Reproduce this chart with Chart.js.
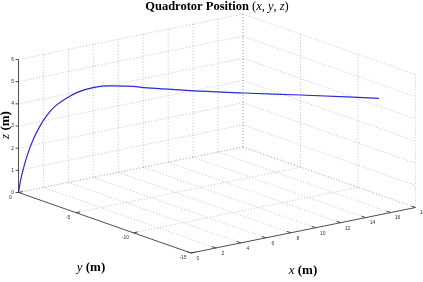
<!DOCTYPE html>
<html>
<head>
<meta charset="utf-8">
<script src="https://cdn.jsdelivr.net/npm/chart.js@4/dist/chart.umd.min.js"></script>
<style>
  html, body { margin: 0; padding: 0; background: #fff; }
  canvas { display: block; }
</style>
</head>
<body>
<canvas id="quadChart" width="423" height="282"></canvas>
<script>
// trajectory (m)
const xPos = [0, 0.11, 0.27, 0.47, 0.72, 1.05, 1.43, 1.85, 2.34, 2.92, 3.75, 4.55, 5.4, 6.4, 8, 9, 11.2, 14, 17.9];
const yPos = [0, -0.07, -0.18, -0.31, -0.48, -0.7, -0.95, -1.23, -1.56, -1.95, -2.5, -3.03, -3.6, -4.27, -5.33, -6.0, -7.47, -9.33, -11.93];
const zPos = [0, 0.57, 1.17, 1.77, 2.37, 2.98, 3.51, 3.93, 4.25, 4.54, 4.77, 4.84, 4.84, 4.77, 4.69, 4.64, 4.57, 4.50, 4.38];

// axis ticks
const xTicks = [0, 2, 4, 6, 8, 10, 12, 14, 16, 18];
const yTicks = [0, -5, -10, -15];
const zTicks = [0, 1, 2, 3, 4, 5, 6];

const xMin = 0, xMax = 18, yMin = -15, yMax = 0, zMin = 0, zMax = 6;

// 3d -> 2d view (box edges in projected units)
function proj(x, y, z) {
  const xn = (x - xMin) / (xMax - xMin);
  const yn = (yMax - y) / (yMax - yMin);
  const zn = (z - zMin) / (zMax - zMin);
  return {
    x: xn * 224.5 + yn * 172.5,
    y: xn * 45.5 - yn * 60.5 + zn * 133
  };
}

const points = xPos.map((x, i) => proj(x, yPos[i], zPos[i]));

function drawParts(ctx, parts, cx, cy) {
  let total = 0;
  parts.forEach((p) => { ctx.font = p.f; total += ctx.measureText(p.t).width; });
  let x = cx - total / 2;
  parts.forEach((p) => {
    ctx.font = p.f;
    ctx.fillText(p.t, x, cy);
    x += ctx.measureText(p.t).width;
  });
}

const boxPlugin = {
  id: 'box3d',
  beforeDatasetsDraw(chart) {
    const ctx = chart.ctx;
    const sx = chart.scales.x, sy = chart.scales.y;
    const P = (x, y, z) => {
      const q = proj(x, y, z);
      return [sx.getPixelForValue(q.x), sy.getPixelForValue(q.y)];
    };
    const seg = (a, b) => {
      ctx.beginPath();
      ctx.moveTo(a[0], a[1]);
      ctx.lineTo(b[0], b[1]);
      ctx.stroke();
    };

    // dotted grid on back walls and floor
    ctx.save();
    ctx.strokeStyle = '#b4b4b4';
    ctx.lineWidth = 0.8;
    ctx.setLineDash([1, 2]);
    xTicks.forEach((x) => {
      if (x !== xMin) seg(P(x, yMax, zMin), P(x, yMax, zMax));
      if (x !== xMin) seg(P(x, yMax, zMin), P(x, yMin, zMin));
    });
    zTicks.forEach((z) => {
      seg(P(xMin, yMax, z), P(xMax, yMax, z));
      seg(P(xMax, yMax, z), P(xMax, yMin, z));
    });
    yTicks.forEach((y) => {
      seg(P(xMax, y, zMin), P(xMax, y, zMax));
      if (y !== yMin) seg(P(xMin, y, zMin), P(xMax, y, zMin));
    });
    ctx.restore();

    // solid axes
    ctx.save();
    ctx.strokeStyle = '#3a3a3a';
    ctx.lineWidth = 0.9;
    seg(P(xMin, yMax, zMin), P(xMin, yMax, zMax));
    seg(P(xMin, yMax, zMin), P(xMin, yMin, zMin));
    seg(P(xMin, yMin, zMin), P(xMax, yMin, zMin));

    // tick marks
    xTicks.forEach((x) => {
      seg(P(x, yMin, zMin), P(x, yMin + 0.35, zMin));
    });
    yTicks.forEach((y) => {
      seg(P(xMin, y, zMin), P(xMin + 0.35, y, zMin));
    });
    zTicks.forEach((z) => {
      const a = P(xMin, yMax, z);
      seg(a, [a[0] - 3, a[1]]);
    });

    // tick labels
    ctx.fillStyle = '#333';
    ctx.font = '5px "Liberation Sans"';
    ctx.textAlign = 'center';
    ctx.textBaseline = 'middle';
    xTicks.forEach((x) => {
      const a = P(x, yMin, zMin);
      ctx.fillText(String(x), a[0] + 7, a[1] + 5.5);
    });
    yTicks.forEach((y) => {
      const a = P(xMin, y, zMin);
      ctx.fillText(String(y), a[0] - 8, a[1] + 5);
    });
    ctx.textAlign = 'right';
    zTicks.forEach((z) => {
      const a = P(xMin, yMax, z);
      ctx.fillText(String(z), a[0] - 4.5, a[1]);
    });
    ctx.restore();
  },
  afterDraw(chart) {
    const ctx = chart.ctx;
    ctx.save();
    ctx.fillStyle = '#000';
    ctx.textAlign = 'left';
    ctx.textBaseline = 'middle';
    const serif = '"Liberation Serif"';
    const ts = '12.5px ';
    drawParts(ctx, [
      { t: 'Quadrotor Position ', f: 'bold ' + ts + serif },
      { t: '(', f: ts + serif },
      { t: 'x', f: 'italic ' + ts + serif },
      { t: ', ', f: ts + serif },
      { t: 'y', f: 'italic ' + ts + serif },
      { t: ', ', f: ts + serif },
      { t: 'z', f: 'italic ' + ts + serif },
      { t: ')', f: ts + serif }
    ], 217, 7);

    drawParts(ctx, [
      { t: 'y', f: 'italic 13px ' + serif },
      { t: ' (m)', f: 'bold 13px ' + serif }
    ], 91, 268);
    drawParts(ctx, [
      { t: 'x', f: 'italic 13px ' + serif },
      { t: ' (m)', f: 'bold 13px ' + serif }
    ], 303, 271);

    ctx.translate(6, 125);
    ctx.rotate(-Math.PI / 2);
    drawParts(ctx, [
      { t: 'z', f: 'italic 13px ' + serif },
      { t: ' (m)', f: 'bold 13px ' + serif }
    ], 0, 0);
    ctx.restore();
  }
};

new Chart(document.getElementById('quadChart'), {
  type: 'scatter',
  data: {
    datasets: [{
      data: points,
      showLine: true,
      borderColor: '#2a2ad8',
      borderWidth: 1.2,
      pointRadius: 0,
      cubicInterpolationMode: 'monotone',
      clip: false
    }]
  },
  options: {
    responsive: false,
    animation: false,
    devicePixelRatio: 1,
    layout: { padding: 0 },
    plugins: { legend: { display: false }, tooltip: { enabled: false } },
    scales: {
      x: { type: 'linear', display: false, min: -18.5, max: 404.5 },
      y: { type: 'linear', display: false, min: -89.5, max: 192.5 }
    }
  },
  plugins: [boxPlugin]
});
</script>
</body>
</html>
